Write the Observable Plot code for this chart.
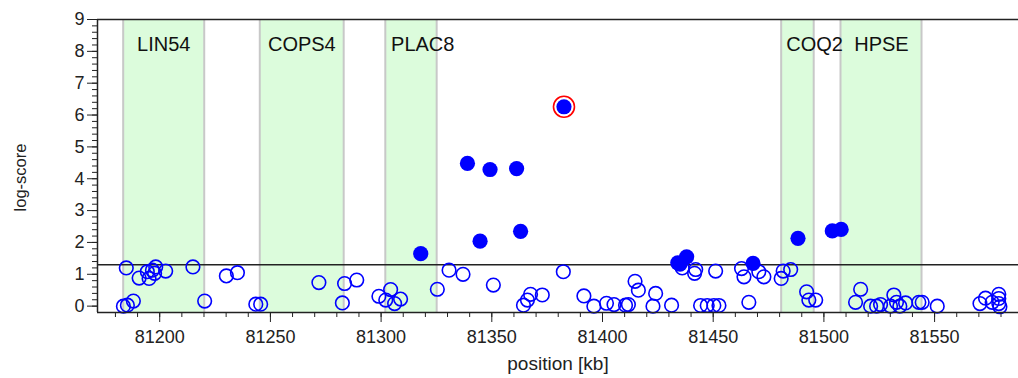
<!DOCTYPE html>
<html>
<head>
<meta charset="utf-8">
<script src="https://cdn.jsdelivr.net/npm/d3@7"></script>
<script src="https://cdn.jsdelivr.net/npm/@observablehq/plot@0.6"></script>
<style>
  html, body { margin: 0; padding: 0; background: #fff; }
</style>
</head>
<body>
<div id="chart"></div>
<script>
// ---- data ----
const geneNames = ["LIN54", "COPS4", "PLAC8", "COQ2", "HPSE"];
const geneStart = [81183.5, 81245.2, 81301.9, 81480.7, 81507.5];
const geneEnd   = [81220.1, 81283.1, 81325.1, 81495.4, 81544.1];
const geneLabelPos = [81201.8, 81264.2, 81318.8, 81495.8, 81526.0];

const threshold = 1.3;

const openPos = [
  81183.6, 81185.4, 81188.1, 81184.9, 81190.7, 81194.4, 81195.2, 81196.7, 81198.2, 81197.7,
  81202.7, 81215.0, 81220.3, 81230.1, 81235.1, 81243.4, 81245.6, 81271.9, 81282.5, 81283.5,
  81289.0, 81299.0, 81302.1, 81304.3, 81306.1, 81308.8, 81325.4, 81330.7, 81337.0, 81350.7,
  81364.3, 81366.1, 81367.5, 81372.8, 81382.3, 81391.6, 81396.1, 81401.8, 81405.2, 81410.4,
  81411.7, 81414.7, 81416.2, 81422.8, 81424.0, 81431.2, 81436.0, 81441.6, 81442.1, 81451.1,
  81444.3, 81447.3, 81450.3, 81452.6, 81462.8, 81463.9, 81466.1, 81470.6, 81472.9, 81480.7,
  81481.6, 81485.0, 81492.2, 81493.2, 81496.3, 81514.3, 81516.6, 81521.1, 81523.8, 81525.6,
  81530.1, 81531.6, 81532.8, 81534.3, 81536.9, 81542.9, 81544.4, 81551.2, 81570.5, 81573.0,
  81576.0, 81579.0, 81579.0, 81579.0, 81579.5
];
const openScore = [
  0.00, 0.03, 0.16, 1.20, 0.88, 1.08, 0.87, 1.13, 1.23, 1.03,
  1.10, 1.23, 0.16, 0.95, 1.05, 0.06, 0.06, 0.74, 0.10, 0.71,
  0.82, 0.31, 0.19, 0.52, 0.08, 0.22, 0.53, 1.13, 1.00, 0.66,
  0.03, 0.19, 0.37, 0.35, 1.08, 0.32, 0.00, 0.09, 0.05, 0.03,
  0.05, 0.78, 0.50, 0.00, 0.40, 0.03, 1.20, 1.03, 1.15, 1.10,
  0.02, 0.02, 0.02, 0.02, 1.18, 0.92, 0.12, 1.08, 0.92, 0.87,
  1.10, 1.15, 0.45, 0.19, 0.19, 0.12, 0.53, 0.00, 0.00, 0.05,
  0.00, 0.35, 0.12, 0.00, 0.10, 0.12, 0.12, 0.00, 0.08, 0.25,
  0.12, 0.37, 0.24, 0.08, -0.02
];

const hitPos   = [81317.9, 81339.0, 81344.7, 81349.2, 81361.2, 81363.0, 81382.6, 81434.0, 81435.0, 81438.0, 81468.0, 81488.3, 81503.8, 81507.8];
const hitScore = [1.65, 4.48, 2.04, 4.29, 4.32, 2.35, 6.26, 1.36, 1.32, 1.55, 1.34, 2.13, 2.36, 2.41];

const topPos = [81382.6];
const topScore = [6.26];

const xTicks = [81200, 81250, 81300, 81350, 81400, 81450, 81500, 81550];
const xMinorTicks = d3.range(81180, 81581, 10);
const yTicks = [0, 1, 2, 3, 4, 5, 6, 7, 8, 9];
const yMinorTicks = d3.range(0, 46).map(i => +(i * 0.2).toFixed(1));

const xDomain = [81171.9, 81587.9];
const yDomain = [-0.2, 9];

// ---- tables built from arrays ----
const genes = geneNames.map((name, i) => ({name, start: geneStart[i], end: geneEnd[i], labelX: geneLabelPos[i]}));
const openPts = openPos.map((x, i) => ({x, y: openScore[i]}));
const hitPts = hitPos.map((x, i) => ({x, y: hitScore[i]}));
const topPts = topPos.map((x, i) => ({x, y: topScore[i]}));

const FONT = "'Liberation Sans', Arial, sans-serif";

const chart = Plot.plot({
  width: 1018,
  height: 378,
  marginTop: 19,
  marginLeft: 97,
  marginRight: 0,
  marginBottom: 66,
  style: {fontFamily: FONT, fontSize: "18px", background: "white", color: "black"},
  x: {domain: xDomain},
  y: {domain: yDomain},
  marks: [
    Plot.rect(genes, {x1: "start", x2: "end", fill: "#dcfcdc"}),
    Plot.ruleX(genes, {x: "start", stroke: "#c8c8c8", strokeWidth: 2}),
    Plot.ruleX(genes, {x: "end", stroke: "#c8c8c8", strokeWidth: 2}),
    Plot.text(genes, {x: "labelX", text: "name", frameAnchor: "top", lineAnchor: "middle", dy: 25, fontSize: 20, fill: "#111"}),
    Plot.ruleY([threshold], {stroke: "#222", strokeWidth: 1.5}),
    Plot.dot(openPts, {x: "x", y: "y", r: 6.8, stroke: "blue", strokeWidth: 1.6, fill: "none"}),
    Plot.dot(hitPts, {x: "x", y: "y", r: 7.6, fill: "blue", stroke: "none"}),
    Plot.dot(topPts, {x: "x", y: "y", r: 10.5, stroke: "red", strokeWidth: 1.6, fill: "none"}),
    Plot.ruleY([yDomain[1]], {stroke: "#222", strokeWidth: 1.5}),
    Plot.ruleY([yDomain[0]], {stroke: "#222", strokeWidth: 1.5}),
    Plot.ruleX([xDomain[0]], {stroke: "#222", strokeWidth: 1.5}),
    Plot.axisX({ticks: xMinorTicks, tickSize: 5, tickFormat: () => "", label: null, stroke: "#222"}),
    Plot.axisX({ticks: xTicks, tickSize: 10, tickPadding: 8, tickFormat: d => String(d), label: null, fontSize: 18, stroke: "#222", fill: "#222"}),
    Plot.axisY({ticks: yMinorTicks, tickSize: 5, tickFormat: () => "", label: null, stroke: "#222"}),
    Plot.axisY({ticks: yTicks, tickSize: 10, tickPadding: 3, tickFormat: d => String(d), label: null, fontSize: 18, stroke: "#222", fill: "#222"}),
    Plot.text(["position [kb]"], {frameAnchor: "bottom", textAnchor: "middle", lineAnchor: "middle", dy: 51, fontSize: 19, fill: "#222"}),
    Plot.text(["log-score"], {frameAnchor: "left", textAnchor: "middle", lineAnchor: "middle", dx: -77, dy: 11.5, rotate: -90, fontSize: 16.5, fill: "#222"})
  ]
});

document.getElementById("chart").appendChild(chart);
</script>
</body>
</html>
